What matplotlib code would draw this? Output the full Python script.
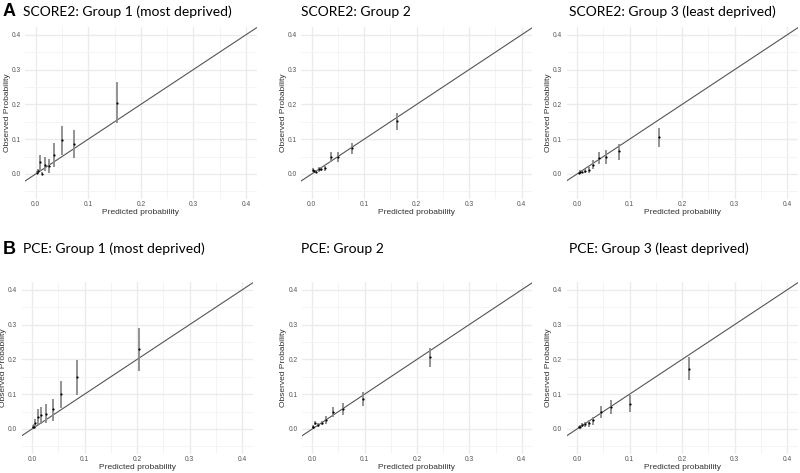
import matplotlib
matplotlib.use("Agg")
import matplotlib.pyplot as plt
from matplotlib.ticker import FixedLocator

# ---------------- data ----------------
titles = ["SCORE2: Group 1 (most deprived)", "SCORE2: Group 2", "SCORE2: Group 3 (least deprived)",
          "PCE: Group 1 (most deprived)", "PCE: Group 2", "PCE: Group 3 (least deprived)"]
panel_letters = ["A", "", "", "B", "", ""]

# SCORE2 group 1
s1_pred = [0.002, 0.005, 0.008, 0.012, 0.017, 0.025, 0.035, 0.050, 0.073, 0.155]
s1_obs  = [0.003, 0.008, 0.033, 0.001, 0.027, 0.023, 0.055, 0.098, 0.087, 0.205]
s1_lo   = [0.000, 0.002, 0.008, 0.000, 0.008, 0.002, 0.021, 0.055, 0.047, 0.145]
s1_hi   = [0.008, 0.015, 0.055, 0.005, 0.050, 0.042, 0.088, 0.139, 0.126, 0.265]
# SCORE2 group 2
s2_pred = [0.002, 0.005, 0.008, 0.013, 0.018, 0.025, 0.036, 0.051, 0.076, 0.163]
s2_obs  = [0.011, 0.008, 0.006, 0.013, 0.014, 0.016, 0.050, 0.048, 0.074, 0.152]
s2_lo   = [0.006, 0.004, 0.002, 0.007, 0.008, 0.009, 0.035, 0.033, 0.057, 0.126]
s2_hi   = [0.016, 0.012, 0.010, 0.019, 0.020, 0.023, 0.064, 0.064, 0.090, 0.174]
# SCORE2 group 3
s3_pred = [0.003, 0.006, 0.010, 0.016, 0.023, 0.030, 0.041, 0.056, 0.080, 0.156]
s3_obs  = [0.004, 0.006, 0.007, 0.009, 0.012, 0.027, 0.046, 0.050, 0.066, 0.105]
s3_lo   = [0.001, 0.002, 0.003, 0.004, 0.003, 0.014, 0.029, 0.029, 0.041, 0.077]
s3_hi   = [0.007, 0.010, 0.012, 0.015, 0.020, 0.040, 0.062, 0.070, 0.086, 0.131]
# PCE group 1
p1_pred = [0.001, 0.003, 0.006, 0.011, 0.018, 0.027, 0.039, 0.056, 0.086, 0.203]
p1_obs  = [0.007, 0.007, 0.018, 0.033, 0.039, 0.044, 0.056, 0.100, 0.149, 0.231]
p1_lo   = [0.002, 0.002, 0.007, 0.011, 0.014, 0.016, 0.024, 0.059, 0.099, 0.167]
p1_hi   = [0.012, 0.013, 0.030, 0.056, 0.064, 0.072, 0.086, 0.139, 0.198, 0.289]
# PCE group 2
p2_pred = [0.001, 0.002, 0.006, 0.010, 0.018, 0.027, 0.040, 0.059, 0.096, 0.225]
p2_obs  = [0.005, 0.007, 0.018, 0.011, 0.016, 0.026, 0.048, 0.058, 0.087, 0.208]
p2_lo   = [0.001, 0.003, 0.012, 0.006, 0.010, 0.015, 0.035, 0.040, 0.067, 0.179]
p2_hi   = [0.009, 0.012, 0.024, 0.016, 0.022, 0.037, 0.064, 0.074, 0.106, 0.234]
# PCE group 3
p3_pred = [0.004, 0.006, 0.009, 0.015, 0.023, 0.031, 0.045, 0.065, 0.100, 0.213]
p3_obs  = [0.005, 0.007, 0.011, 0.013, 0.016, 0.026, 0.048, 0.064, 0.072, 0.173]
p3_lo   = [0.002, 0.003, 0.006, 0.006, 0.007, 0.011, 0.031, 0.043, 0.050, 0.141]
p3_hi   = [0.008, 0.011, 0.016, 0.020, 0.026, 0.035, 0.067, 0.083, 0.098, 0.208]

panels = [
    (s1_pred, s1_obs, s1_lo, s1_hi),
    (s2_pred, s2_obs, s2_lo, s2_hi),
    (s3_pred, s3_obs, s3_lo, s3_hi),
    (p1_pred, p1_obs, p1_lo, p1_hi),
    (p2_pred, p2_obs, p2_lo, p2_hi),
    (p3_pred, p3_obs, p3_lo, p3_hi),
]
tick_vals = [0.0, 0.1, 0.2, 0.3, 0.4]
tick_labels = ["0.0", "0.1", "0.2", "0.3", "0.4"]

# ---------------- layout ----------------
W, H = 800, 473
fig = plt.figure(figsize=(W / 100, H / 100), dpi=100)
fig.patch.set_facecolor("white")

# axes boxes in pixels: (left, right, top, bottom)
boxes = [
    (25.2, 256.5, 26.9, 199.2),
    (301.2, 532.2, 26.9, 199.2),
    (566.5, 797.8, 26.9, 199.2),
    (21.5, 252.8, 281.9, 454.2),
    (301.8, 532.2, 281.9, 454.2),
    (566.5, 797.8, 281.9, 454.2),
]
title_y = [12, 12, 12, 249, 249, 249]
title_x = [23, 301, 569, 23, 301, 569]

title_font = ["Lato", "DejaVu Sans"]
small_font = ["Liberation Sans", "DejaVu Sans"]

for i, (box, data) in enumerate(zip(boxes, panels)):
    l, r, t, b = box
    ax = fig.add_axes([l / W, 1 - b / H, (r - l) / W, (b - t) / H])
    ax.set_xlim(-0.02, 0.42)
    ax.set_ylim(-0.0725, 0.4225)
    ax.set_facecolor("white")
    for s in ax.spines.values():
        s.set_visible(False)
    ax.xaxis.set_major_locator(FixedLocator(tick_vals))
    ax.yaxis.set_major_locator(FixedLocator(tick_vals))
    ax.xaxis.set_minor_locator(FixedLocator([0.05, 0.15, 0.25, 0.35]))
    ax.yaxis.set_minor_locator(FixedLocator([-0.05, 0.05, 0.15, 0.25, 0.35]))
    ax.set_xticklabels(tick_labels)
    ax.set_yticklabels(tick_labels)
    ax.grid(True, which="major", color="#ebebeb", linewidth=1.0)
    ax.grid(True, which="minor", color="#f3f3f3", linewidth=0.6)
    ax.set_axisbelow(True)
    ax.tick_params(which="both", length=0, labelsize=4.8, labelcolor="#555555")
    ax.tick_params(axis="x", pad=1.5)
    ax.tick_params(axis="y", pad=3)
    for lab in ax.get_xticklabels() + ax.get_yticklabels():
        lab.set_family(small_font)

    pred, obs, lo, hi = data
    ax.axline((0, 0), slope=1, color="#555555", linewidth=0.8, zorder=2)
    ax.vlines(pred, lo, hi, color="#8a8a8a", linewidth=1.3, zorder=3)
    ax.scatter(pred, obs, s=2.5, color="black", zorder=4, linewidths=0)

    ax.set_xlabel("Predicted probability", fontsize=6, family=small_font, color="#333333", labelpad=0.7)
    ax.set_ylabel("Observed Probability", fontsize=6, family=small_font, color="#333333", labelpad=0.7)

    fig.text(title_x[i] / W, 1 - title_y[i] / H, titles[i], fontsize=10,
             family=title_font, va="center", ha="left", color="black")
    if panel_letters[i]:
        fig.text(3 / W, 1 - title_y[i] / H, panel_letters[i], fontsize=13, fontweight="bold",
                 family=["Liberation Sans", "DejaVu Sans"], va="center", ha="left")

fig.savefig("out.png", dpi=100, facecolor="white")
